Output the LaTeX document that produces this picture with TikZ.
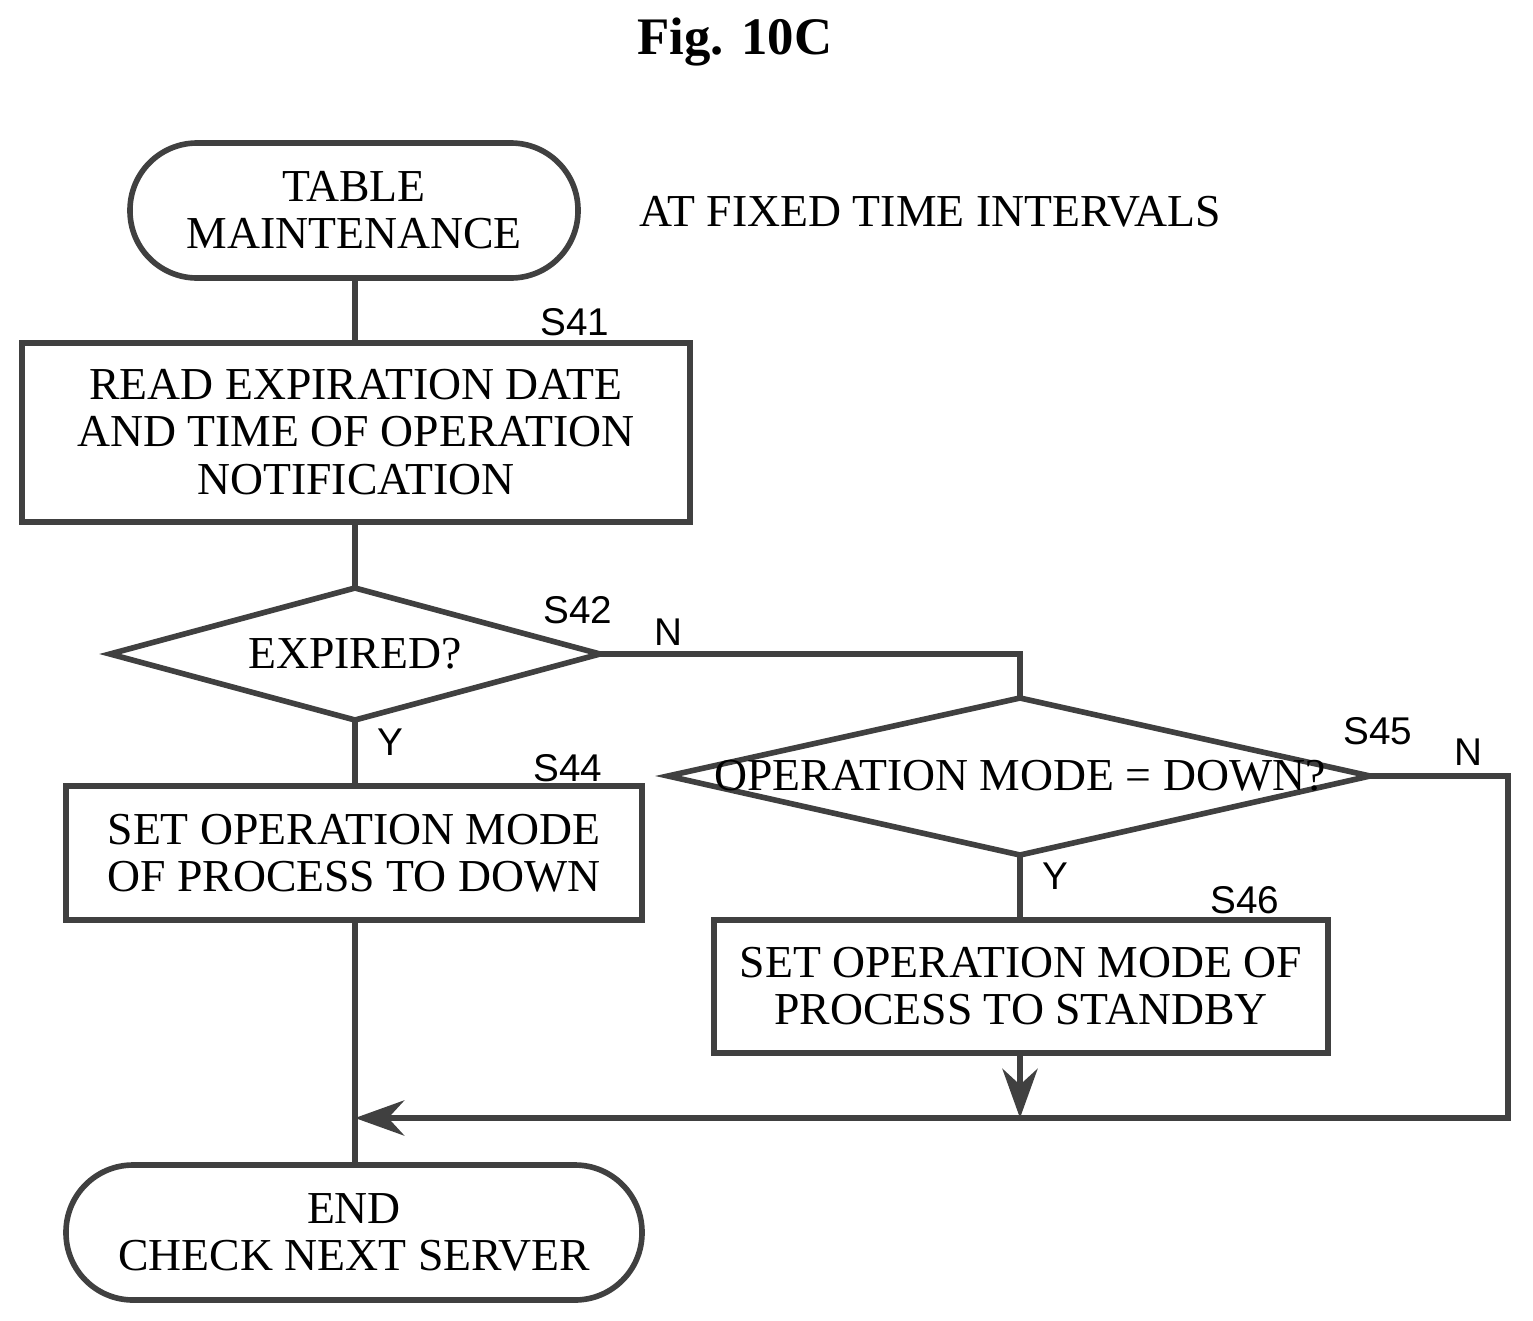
\documentclass[tikz,border=0pt]{standalone}
\usepackage{fontspec}
\setmainfont{Liberation Serif}
\newfontfamily\lblfont{Liberation Sans}
\usetikzlibrary{shapes.geometric,arrows.meta}
\begin{document}
\begin{tikzpicture}[
  x=0.01cm, y=-0.01cm,
  every node/.style={font=\fontsize{13}{13.4}\selectfont, align=center, inner sep=0pt},
  box/.style={draw, line width=1.6pt, black!75},
  term/.style={draw, line width=1.6pt, black!75, rounded corners=0.67cm},
  flow/.style={line width=1.6pt, black!75},
  lbl/.style={font=\lblfont\fontsize{11}{12}\selectfont}
]
\useasboundingbox (0,0) rectangle (1533,1321);

% Titel
\node[font=\bfseries\fontsize{15}{16}\selectfont] (title) at (735,42) {Fig. 10C};

% Kasten und Rauten
\draw[term] (130,143) rectangle (578,278);
\node (start) at (354,210) {TABLE\\MAINTENANCE};
\node (note) at (930,212) {AT FIXED TIME INTERVALS};

\draw[box] (22,343) rectangle (690,522);
\node (s41) at (356,432) {READ EXPIRATION DATE\\AND TIME OF OPERATION\\NOTIFICATION};

\draw[box] (110,654) -- (355,588) -- (600,654) -- (355,720) -- cycle;
\node (s42) at (355,654) {EXPIRED?};

\draw[box] (668,776) -- (1020,698) -- (1370,776) -- (1020,855) -- cycle;
\node (s45) at (1020,776) {OPERATION MODE = DOWN?};

\draw[box] (66,786) rectangle (642,920);
\node (s44) at (354,853) {SET OPERATION MODE\\OF PROCESS TO DOWN};

\draw[box] (714,920) rectangle (1328,1053);
\node (s46) at (1021,986) {SET OPERATION MODE OF\\PROCESS TO STANDBY};

\draw[term] (66,1165) rectangle (642,1300);
\node (finish) at (354,1232) {END\\CHECK NEXT SERVER};

% Verbindungen
\coordinate (join) at (355,1118);
\draw[flow] (355,278) -- (355,343);
\draw[flow] (355,522) -- (355,588);
\draw[flow] (355,720) -- (355,786);
\draw[flow] (600,654) -- (1020,654) -- (1020,698);
\draw[flow] (1020,855) -- (1020,920);
\draw[flow, -{Stealth[length=14pt,width=10pt]}] (1020,1053) -- (1020,1118);
\draw[flow, -{Stealth[length=14pt,width=10pt]}] (1370,776) -- (1508,776) -- (1508,1118) -- (join);
\draw[flow] (355,920) -- (355,1165);

% Beschriftungen
\node[lbl] (l41) at (575,322) {S41};
\node[lbl] (l42) at (578,610) {S42};
\node[lbl] (n42) at (668,632) {N};
\node[lbl] (y42) at (390,742) {Y};
\node[lbl] (l44) at (568,768) {S44};
\node[lbl] (l45) at (1378,731) {S45};
\node[lbl] (n45) at (1468,752) {N};
\node[lbl] (y45) at (1055,876) {Y};
\node[lbl] (l46) at (1245,900) {S46};
\end{tikzpicture}
\end{document}
